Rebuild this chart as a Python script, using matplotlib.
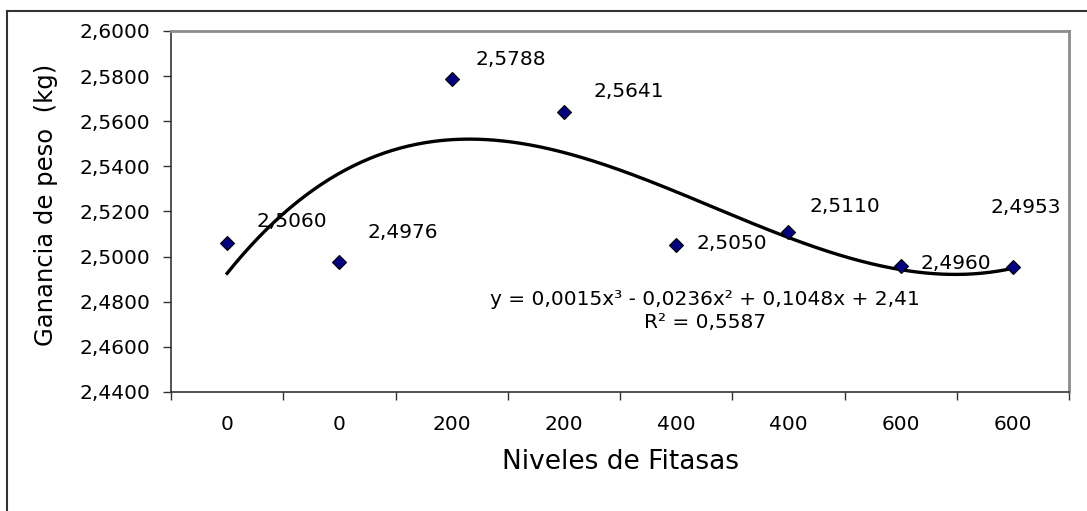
import numpy as np
import matplotlib
matplotlib.use('Agg')
import matplotlib.pyplot as plt
from matplotlib.ticker import FuncFormatter, FixedLocator

plt.rcParams['font.family'] = ['DejaVu Sans']

# datos del ensayo
niveles = ['0', '0', '200', '200', '400', '400', '600', '600']
ganancia = [2.5060, 2.4976, 2.5788, 2.5641, 2.5050, 2.5110, 2.4960, 2.4953]
# texto de la linea de tendencia
ecuacion = 'y = 0,0015x³ - 0,0236x² + 0,1048x + 2,41'
r2_texto = 'R² = 0,5587'
# desplazamiento de cada etiqueta (px)
offsets = [(29, 22), (28, 30), (24, 19), (30, 20), (20, 2), (21, 25), (20, 2), (-22, 60)]

W, H = 1087, 511
fig = plt.figure(figsize=(W / 100, H / 100), dpi=100)
ax = fig.add_axes([171 / W, 1 - 392 / H, 898 / W, 361 / H])

x = np.arange(1, len(ganancia) + 1)
y = np.array(ganancia)

# tendencia polinomica orden 3
coef = np.polyfit(x, y, 3)
xs = np.linspace(1, len(ganancia), 300)
ax.plot(xs, np.polyval(coef, xs), color='black', lw=2.4, zorder=2)

ax.plot(x, y, ls='none', marker='D', ms=7.5, mfc='#000080', mec='black', mew=0.8, zorder=3)

def coma(v):
    return f'{v:.4f}'.replace('.', ',')

for xi, yi, (dx, dy) in zip(x, y, offsets):
    ax.annotate(coma(yi), (xi, yi), xytext=(dx, dy), textcoords='offset pixels',
                ha='left', va='center', fontsize=14.5)

ax.text(0.595, 0.224, ecuacion + '\n' + r2_texto, transform=ax.transAxes,
        ha='center', va='center', multialignment='center', fontsize=14.5, linespacing=1.3)

ax.set_xlim(0.5, len(ganancia) + 0.5)
ax.set_ylim(2.44, 2.60)
ax.set_yticks(np.arange(2.44, 2.6001, 0.02))
ax.yaxis.set_major_formatter(FuncFormatter(lambda v, p: coma(v)))
ax.tick_params(axis='y', direction='out', length=6, width=1, color='#333333', labelsize=14.5, pad=9)

ax.xaxis.set_major_locator(FixedLocator(np.arange(0.5, len(ganancia) + 1, 1)))
ax.xaxis.set_minor_locator(FixedLocator(x))
ax.set_xticklabels([], minor=False)
ax.set_xticklabels(niveles, minor=True)
ax.tick_params(axis='x', which='major', direction='out', length=6, width=1, color='#333333')
ax.tick_params(axis='x', which='minor', length=0, labelsize=14.5, pad=16.5)

for s in ['left', 'bottom']:
    ax.spines[s].set_color('#333333')
    ax.spines[s].set_linewidth(1.2)
for s in ['top', 'right']:
    ax.spines[s].set_color('#8c8c8c')
    ax.spines[s].set_linewidth(2)

ax.set_xlabel('Niveles de Fitasas', fontsize=19, labelpad=11)
ax.set_ylabel('Ganancia de peso  (kg)', fontsize=17.5)
ax.yaxis.set_label_coords((58 - 171) / 898, (392 - 205) / 361)

# marco del grafico
fig.add_artist(plt.Line2D([7 / W, 1], [1 - 11 / H, 1 - 11 / H], transform=fig.transFigure, color='#333333', lw=1.5))
fig.add_artist(plt.Line2D([7 / W, 7 / W], [0, 1 - 11 / H], transform=fig.transFigure, color='#333333', lw=1.5))

fig.savefig('out.png', dpi=100)
